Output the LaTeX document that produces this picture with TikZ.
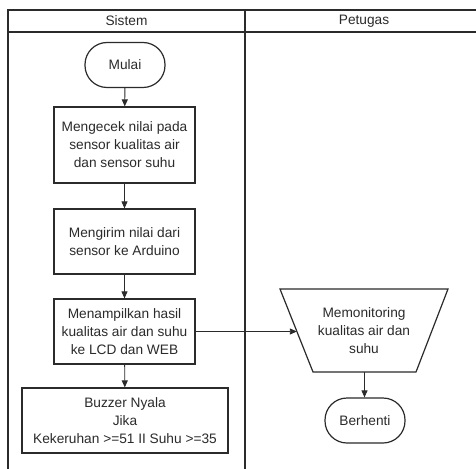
\documentclass[tikz,border=0pt]{standalone}
\usepackage{fontspec}
\setmainfont{Liberation Sans}
\usepackage{xcolor}
\usepackage{tikz}
\usetikzlibrary{arrows.meta}
\usetikzlibrary{calc}

\definecolor{garis}{HTML}{2B2B2B}
\tikzset{
  proses/.style={draw=garis, line width=1.2pt, align=center, minimum width=141, minimum height=65},
  terminal/.style={draw=garis, line width=1.2pt, rounded corners=22pt, minimum width=80, minimum height=45},
  panah/.style={draw=garis, line width=0.9pt, -{Triangle[length=7pt, width=6pt]}},
  lajur/.style={draw=garis, line width=2.5pt}
}

\begin{document}
\begin{tikzpicture}[x=1pt, y=-1pt, font=\fontsize{13.7}{18}\selectfont, text=garis]
        \clip (0,0) rectangle (476,468);
        \fill[white] (0,0) rectangle (476,468);
        % lajur
        \draw[lajur] (8,480) -- (8,10) -- (490,10);
        \draw[lajur] (8,32) -- (490,32);
        \draw[lajur] (245,10) -- (245,480);
        \node (sistem) at (126.5,21) {Sistem};
        \node (petugas) at (364,21) {Petugas};
        % sistem
        \node[terminal] (mulai) at (125,65) {Mulai};
        \node[proses, minimum height=76] (cek) at (124.5,145) {Mengecek nilai pada\\sensor kualitas air\\dan sensor suhu};
        \node[proses] (kirim) at (124.5,241.5) {Mengirim nilai dari\\sensor ke Arduino};
        \node[proses] (tampil) at (124.5,331.5) {Menampilkan hasil\\kualitas air dan suhu\\ke LCD dan WEB};
        \node[proses, minimum width=206] (buzzer) at (125,420.5) {Buzzer Nyala\\Jika\\Kekeruhan >=51 II Suhu >=35};
        % petugas
        \coordinate (tA) at (280,289);
        \coordinate (tB) at (448,289);
        \coordinate (tC) at (416,372);
        \coordinate (tD) at (313,372);
        \draw[draw=garis, line width=1.2pt] (tA) -- (tB) -- (tC) -- (tD) -- cycle;
        \node[align=center] (monitor) at (364,331) {Memonitoring\\kualitas air dan\\suhu};
        \coordinate (masuk) at ($(tA)!0.51!(tD)$);
        \coordinate (keluar) at ($(tC)!0.5!(tD)$);
        \node[terminal] (berhenti) at (365,420.5) {Berhenti};
        % panah
        \draw[panah] (mulai) -- (cek);
        \draw[panah] (cek) -- (kirim);
        \draw[panah] (kirim) -- (tampil);
        \draw[panah] (tampil) -- (buzzer);
        \draw[panah] (tampil.east) -- (tampil.east -| masuk);
        \draw[panah] (keluar) -- (berhenti.north -| keluar);
\end{tikzpicture}
\end{document}
